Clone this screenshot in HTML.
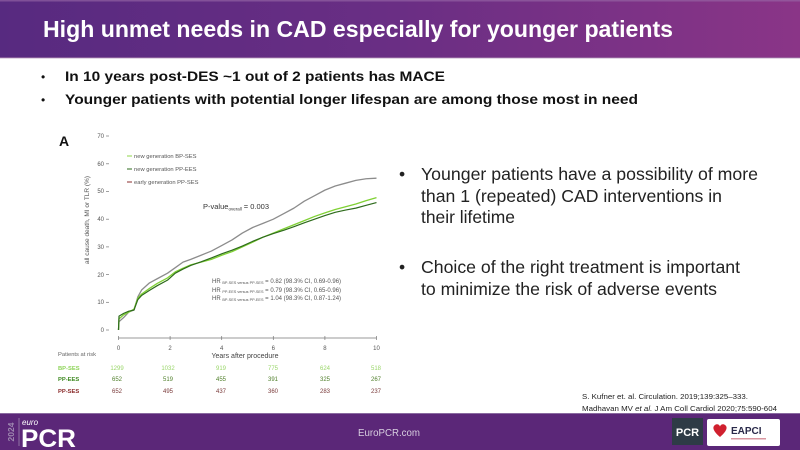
<!DOCTYPE html>
<html><head><meta charset="utf-8"><style>
html,body{margin:0;padding:0;width:800px;height:450px;overflow:hidden;background:#fff}
svg{display:block}
text{font-family:"Liberation Sans",sans-serif}
</style></head><body>
<svg width="800" height="450" viewBox="0 0 800 450" xmlns="http://www.w3.org/2000/svg">
<defs>
<linearGradient id="tg" x1="0" y1="0" x2="1" y2="0">
<stop offset="0" stop-color="#572a80"/>
<stop offset="0.5" stop-color="#6a2e84"/>
<stop offset="1" stop-color="#8a3587"/>
</linearGradient>
</defs>
<rect x="0" y="0" width="800" height="450" fill="#fff"/>
<!-- title bar -->
<rect x="0" y="0" width="800" height="58" fill="url(#tg)"/>
<rect x="0" y="0" width="800" height="1.5" fill="#9a6aa8" opacity="0.6"/>
<rect x="0" y="57" width="800" height="1.5" fill="#a07aa8" opacity="0.6"/>
<text x="43" y="37" font-size="23" font-weight="bold" fill="#fff" textLength="630" lengthAdjust="spacingAndGlyphs">High unmet needs  in CAD especially for younger patients</text>

<!-- top bullets -->
<text x="41" y="81" font-size="12" fill="#111">•</text>
<text x="65" y="81" font-size="14" font-weight="bold" fill="#111" textLength="380" lengthAdjust="spacingAndGlyphs">In 10 years post-DES ~1 out of 2 patients has MACE</text>
<text x="41" y="104" font-size="12" fill="#111">•</text>
<text x="65" y="104" font-size="14" font-weight="bold" fill="#111" textLength="573" lengthAdjust="spacingAndGlyphs">Younger patients with potential longer lifespan are among those most in need</text>

<!-- chart -->
<text x="59" y="146" font-size="14" font-weight="bold" fill="#111">A</text>
<g font-size="6" fill="#555" text-anchor="end">
<text x="104" y="138">70</text>
<text x="104" y="166">60</text>
<text x="104" y="193">50</text>
<text x="104" y="221">40</text>
<text x="104" y="249">30</text>
<text x="104" y="277">20</text>
<text x="104" y="304">10</text>
<text x="104" y="332">0</text>
</g>
<g stroke="#777" stroke-width="0.7">
<line x1="106" y1="136" x2="109" y2="136"/>
<line x1="106" y1="163.8" x2="109" y2="163.8"/>
<line x1="106" y1="191.5" x2="109" y2="191.5"/>
<line x1="106" y1="219.2" x2="109" y2="219.2"/>
<line x1="106" y1="246.9" x2="109" y2="246.9"/>
<line x1="106" y1="274.6" x2="109" y2="274.6"/>
<line x1="106" y1="302.3" x2="109" y2="302.3"/>
<line x1="106" y1="330" x2="109" y2="330"/>
<line x1="118.5" y1="338" x2="376.5" y2="338"/>
<line x1="118.5" y1="336" x2="118.5" y2="340"/>
<line x1="170.1" y1="336" x2="170.1" y2="340"/>
<line x1="221.7" y1="336" x2="221.7" y2="340"/>
<line x1="273.3" y1="336" x2="273.3" y2="340"/>
<line x1="324.9" y1="336" x2="324.9" y2="340"/>
<line x1="376.5" y1="336" x2="376.5" y2="340"/>
</g>
<g font-size="6" fill="#555" text-anchor="middle">
<text x="118.5" y="350">0</text>
<text x="170.1" y="350">2</text>
<text x="221.7" y="350">4</text>
<text x="273.3" y="350">6</text>
<text x="324.9" y="350">8</text>
<text x="376.5" y="350">10</text>
</g>
<text x="245" y="358" font-size="7" fill="#444" text-anchor="middle">Years after procedure</text>
<text transform="translate(89,220) rotate(-90)" font-size="6.5" fill="#555" text-anchor="middle">all cause death, MI or TLR (%)</text>

<!-- legend -->
<line x1="127" y1="156" x2="132" y2="156" stroke="#8fd44a" stroke-width="1"/>
<line x1="127" y1="169" x2="132" y2="169" stroke="#2e6b1c" stroke-width="1"/>
<line x1="127" y1="182" x2="132" y2="182" stroke="#8b2c2c" stroke-width="1"/>
<g font-size="5.8" fill="#555">
<text x="134" y="158">new generation BP-SES</text>
<text x="134" y="171">new generation PP-EES</text>
<text x="134" y="184">early generation PP-SES</text>
</g>
<text x="203" y="209" font-size="7.5" fill="#333">P-value<tspan font-size="4.5" dy="1.5">overall</tspan><tspan dy="-1.5"> = 0.003</tspan></text>

<g font-size="6" fill="#555">
<text x="212" y="283">HR <tspan font-size="3.8" dy="1">BP-SES versus PP-SES</tspan><tspan dy="-1"> = 0.82 (98.3% CI, 0.69-0.96)</tspan></text>
<text x="212" y="292">HR <tspan font-size="3.8" dy="1">PP-EES versus PP-SES</tspan><tspan dy="-1"> = 0.79 (98.3% CI, 0.65-0.96)</tspan></text>
<text x="212" y="300">HR <tspan font-size="3.8" dy="1">BP-SES versus PP-EES</tspan><tspan dy="-1"> = 1.04 (98.3% CI, 0.87-1.24)</tspan></text>
</g>

<!-- curves -->
<g transform="translate(118.5,330) scale(25.8,-2.77)" fill="none" stroke-linejoin="round">
<polyline vector-effect="non-scaling-stroke" stroke="#8c8c8c" stroke-width="1.3" points="0,0 0.02,3 0.2,4.5 0.4,6.5 0.6,7.2 0.75,12 0.9,14.5 1.2,17 1.5,18.5 1.9,20.5 2.2,22.5 2.5,24.5 2.8,25.5 3.2,27 3.6,28.5 4.0,30.5 4.4,32.5 4.8,35 5.2,37 5.6,38.5 6.0,40 6.4,42 6.8,44 7.2,46.5 7.6,48.5 8.0,50.5 8.4,52 8.8,53 9.2,54 9.6,54.6 10,54.8"/>
<polyline vector-effect="non-scaling-stroke" stroke="#7fd133" stroke-width="1.3" points="0,0 0.02,4 0.2,5.5 0.4,6.5 0.6,7.5 0.75,11.5 0.9,13 1.2,15 1.5,16.8 1.9,18.8 2.2,21 2.5,22.3 2.8,23.5 3.2,24.5 3.6,25.5 4.0,27 4.4,28.3 4.8,30 5.2,31.7 5.6,33.5 6.0,35 6.4,36.5 6.8,38 7.2,39.5 7.6,41 8.0,42.3 8.4,43.5 8.8,44.5 9.2,45.5 9.6,46.7 10,47.8"/>
<polyline vector-effect="non-scaling-stroke" stroke="#2e6b1c" stroke-width="1.2" points="0,0 0.02,5 0.2,6 0.4,6.8 0.6,7.2 0.75,11 0.9,12.5 1.2,14.3 1.5,16 1.9,18 2.2,20.5 2.5,22 2.8,23.3 3.2,24.6 3.6,26 4.0,27.5 4.4,28.8 4.8,30.3 5.2,32 5.6,33.5 6.0,34.8 6.4,36 6.8,37.3 7.2,38.7 7.6,40 8.0,41.3 8.4,42.5 8.8,43.3 9.2,44 9.6,45 10,46"/>
</g>

<!-- patients at risk -->
<text x="58" y="356" font-size="5.8" fill="#666">Patients at risk</text>
<g font-size="5.8" font-weight="bold">
<text x="58" y="370" fill="#8fd45a">BP-SES</text>
<text x="58" y="381" fill="#3f8a22">PP-EES</text>
<text x="58" y="393" fill="#8b2c2c">PP-SES</text>
</g>
<g font-size="6" text-anchor="middle">
<g fill="#9ad66a">
<text x="117" y="370">1299</text><text x="168" y="370">1032</text><text x="221" y="370">919</text><text x="273" y="370">775</text><text x="325" y="370">624</text><text x="376" y="370">518</text>
</g>
<g fill="#4f7f2a">
<text x="117" y="381">652</text><text x="168" y="381">519</text><text x="221" y="381">455</text><text x="273" y="381">391</text><text x="325" y="381">325</text><text x="376" y="381">267</text>
</g>
<g fill="#7a3a3a">
<text x="117" y="393">652</text><text x="168" y="393">495</text><text x="221" y="393">437</text><text x="273" y="393">360</text><text x="325" y="393">283</text><text x="376" y="393">237</text>
</g>
</g>

<!-- right bullets -->
<g font-size="17.5" fill="#222">
<text x="399" y="180">•</text>
<text x="421" y="180" textLength="337" lengthAdjust="spacingAndGlyphs">Younger patients have a possibility of more</text>
<text x="421" y="202" textLength="301" lengthAdjust="spacingAndGlyphs">than 1 (repeated) CAD interventions in</text>
<text x="421" y="223" textLength="94" lengthAdjust="spacingAndGlyphs">their lifetime</text>
<text x="399" y="273">•</text>
<text x="421" y="273" textLength="319" lengthAdjust="spacingAndGlyphs">Choice of the right treatment is important</text>
<text x="421" y="295" textLength="296" lengthAdjust="spacingAndGlyphs">to minimize the risk of adverse events</text>
</g>

<!-- citation -->
<g font-size="7.5" fill="#222">
<text x="582" y="399" textLength="166" lengthAdjust="spacingAndGlyphs">S. Kufner et. al. Circulation. 2019;139:325–333.</text>
<text x="582" y="411" textLength="195" lengthAdjust="spacingAndGlyphs">Madhavan MV <tspan font-style="italic">et al.</tspan> J Am Coll Cardiol 2020;75:590-604</text>
</g>

<!-- footer -->
<rect x="0" y="413" width="800" height="37" fill="#5b2778"/>
<rect x="0" y="413" width="800" height="1" fill="#8a6aa0"/>
<text transform="translate(14,432) rotate(-90)" font-size="8.5" font-weight="bold" fill="#9e88b0" text-anchor="middle">2024</text>
<line x1="19" y1="418" x2="19" y2="446" stroke="#9e88b0" stroke-width="0.8"/>
<text x="22" y="425" font-size="8" font-style="italic" fill="#fff">euro</text>
<text x="21" y="447" font-size="25" font-weight="bold" fill="#fff" textLength="55" lengthAdjust="spacingAndGlyphs">PCR</text>
<text x="358" y="436" font-size="10" fill="#d8cfe0" textLength="62" lengthAdjust="spacingAndGlyphs">EuroPCR.com</text>

<rect x="672" y="418" width="31" height="27" fill="#2e3b46"/>
<text x="687.5" y="436" font-size="11" font-weight="bold" fill="#fff" text-anchor="middle">PCR</text>
<rect x="707" y="419" width="73" height="27" rx="2" fill="#fff"/>
<path d="M720 437 C713 431 712 427 715 425 C717 423.5 719.5 424.5 720 426.5 C720.5 424.5 723 423.5 725 425 C728 427 727 431 720 437 Z" fill="#d0202e"/>
<text x="731" y="434" font-size="10" font-weight="bold" fill="#2a2a4a">EAPCI</text>
<rect x="731" y="438" width="35" height="1.5" fill="#c05060" opacity="0.6"/>
</svg>
</body></html>
